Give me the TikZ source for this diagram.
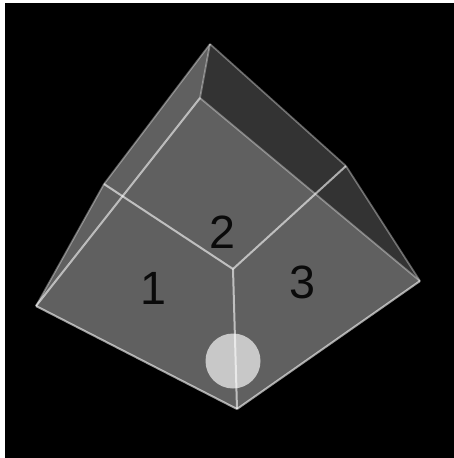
\documentclass[tikz,border=0pt]{standalone}
\usepackage{fontspec}
\setsansfont{Liberation Sans}
\definecolor{cubeBack}{HTML}{000000}
\definecolor{cubeLight}{HTML}{606060}
\definecolor{cubeDark}{HTML}{333333}
\definecolor{cubeEdge}{HTML}{FFFFFF}
\definecolor{cubeText}{HTML}{0A0A0A}
\definecolor{cubeSpot}{HTML}{C8C8C8}

\begin{document}
\begin{tikzpicture}[
  x=0.75pt,
  y=-0.75pt,
  faceLight/.style={fill=cubeLight, draw=none},
  faceDark/.style={fill=cubeDark, draw=none},
  edgeFront/.style={draw=cubeEdge, draw opacity=0.6, line width=1.5pt},
  edgeBack/.style={draw=cubeEdge, draw opacity=0.36, line width=1.3pt},
  faceLabel/.style={
    text=cubeText,
    font=\fontsize{35}{35}\sffamily,
    inner sep=0pt
  }
]

  \useasboundingbox (0,0) rectangle (454,458);
  \fill[white] (0,0) rectangle (454,458);
  \fill[cubeBack] (5,3) rectangle (454,458);

  \coordinate (apex) at (210,44);
  \coordinate (top) at (200,98);
  \coordinate (upL) at (104,184);
  \coordinate (upR) at (346,166);
  \coordinate (left) at (36,306);
  \coordinate (right) at (420,281);
  \coordinate (mid) at (233,269);
  \coordinate (bottom) at (237,409);

  \fill[faceDark] (apex) -- (upR) -- (right) -- (top) -- cycle;
  \fill[faceLight] (apex) -- (upL) -- (left) -- (top) -- cycle;
  \fill[faceLight] (top) -- (left) -- (bottom) -- (right) -- cycle;

  \node[circle, fill=cubeSpot, minimum size=41.25pt, inner sep=0pt] (spot) at (233,361) {};

  \draw[edgeBack] (apex) -- (upR);
  \draw[edgeBack] (upR) -- (right);
  \draw[edgeBack] (top) -- (right);
  \draw[edgeBack] (apex) -- (upL);
  \draw[edgeBack] (upL) -- (left);
  \draw[edgeBack] (apex) -- (top);

  \draw[edgeFront] (top) -- (left);
  \draw[edgeFront] (left) -- (bottom);
  \draw[edgeFront] (bottom) -- (right);
  \draw[edgeFront] (mid) -- (bottom);
  \draw[edgeFront] (upL) -- (mid);
  \draw[edgeFront] (upR) -- (mid);

  \node[faceLabel] (one) at (153,288) {1};
  \node[faceLabel] (two) at (222,232) {2};
  \node[faceLabel] (three) at (302,282) {3};

\end{tikzpicture}
\end{document}
